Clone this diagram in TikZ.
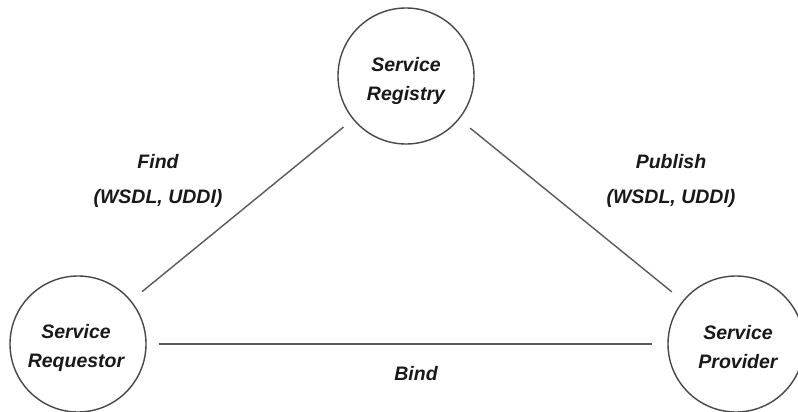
\documentclass[tikz,border=0pt]{standalone}
\usepackage{fontspec}
\setmainfont{Liberation Sans}
\begin{document}
\begin{tikzpicture}[x=1pt,y=-1pt,
  svc/.style={circle,draw=black!72,line width=1.4pt,minimum size=136pt,inner sep=0pt},
  txt/.style={font=\fontsize{19.5}{29}\selectfont\bfseries\itshape,align=center,inner sep=0pt,text=black!90},
  lbl/.style={font=\fontsize{19.5}{35}\selectfont\bfseries\itshape,align=center,inner sep=0pt,text=black!90},
  conn/.style={draw=black!65,line width=1.4pt}]
\useasboundingbox (0,0) rectangle (798,412);
\node[svc] (reg) at (406,76) {};
\node[svc] (req) at (78,344) {};
\node[svc] (prov) at (736,344) {};
\node[txt] (regt) at (406,81) {Service\\Registry};
\node[txt] (reqt) at (76,348) {Service\\Requestor};
\node[txt] (provt) at (738,347) {Service\\Provider};
\draw[conn,shorten <=14pt,shorten >=12pt] (req) -- (reg);
\draw[conn,shorten <=14pt,shorten >=14pt] (reg) -- (prov);
\draw[conn,shorten <=12pt,shorten >=15pt] (req) -- (prov);
\node[lbl] (find) at (158,180.5) {Find\\(WSDL, UDDI)};
\node[lbl] (pub) at (671,180.5) {Publish\\(WSDL, UDDI)};
\node[lbl,anchor=base] (bind) at (416,380) {Bind};
\end{tikzpicture}
\end{document}
